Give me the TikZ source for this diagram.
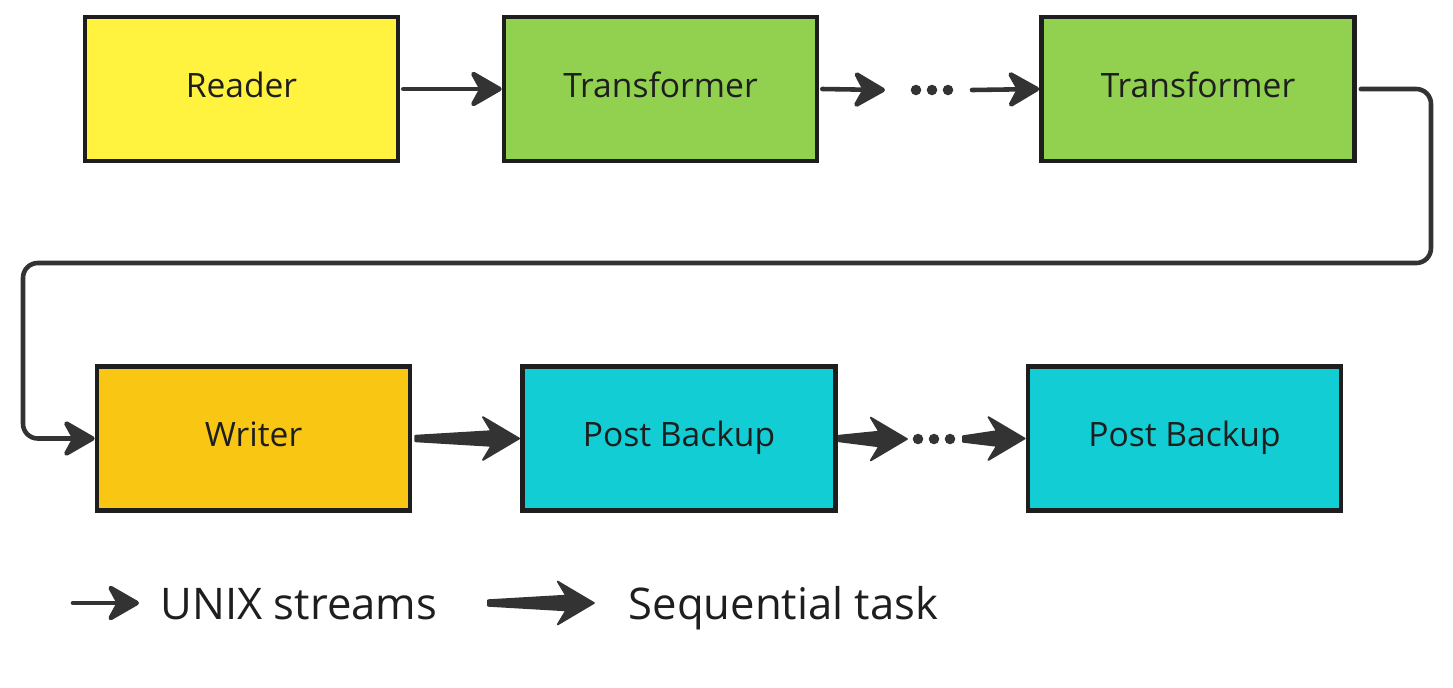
\documentclass[tikz,border=0pt]{standalone}
\usepackage{fontspec}
\setmainfont{Open Sans}
\usetikzlibrary{arrows.meta,calc}
\definecolor{ink}{HTML}{1E1E1E}
\definecolor{arr}{HTML}{333333}
\definecolor{cread}{HTML}{FFF340}
\definecolor{ctrans}{HTML}{92D050}
\definecolor{cwrite}{HTML}{F9C713}
\definecolor{cpost}{HTML}{13CDD4}
\tikzset{
  box/.style={draw=ink, line width=1.25pt, minimum width=3.13cm, minimum height=1.44cm,
    inner sep=0pt, text=ink, text height=7.4pt, text depth=2.6pt,
    font=\fontsize{9.55pt}{11pt}\selectfont},
  uarr/.style={draw=arr, line width=1.3pt, line cap=round,
    -{Stealth[length=10.3pt, width=11.8pt, inset=3.2pt, round]}},
  seq/.style={fill=arr, draw=arr, line width=0.5pt, line join=round,
    to path={let \p1=(\tikztostart), \p2=(\tikztotarget) in
      (\x1,\y1+0.8pt) -- (\x2-8.2pt,\y2+2.1pt) -- (\x2-10.6pt,\y2+6.1pt) --
      (\x2-0.3pt,\y2) -- (\x2-10.6pt,\y2-6.1pt) -- (\x2-8.2pt,\y2-2.1pt) --
      (\x1,\y1-0.8pt) -- cycle}},
  dotsbox/.style={minimum width=0.40cm, minimum height=0.1cm, inner sep=0pt, outer sep=0pt},
  legend/.style={anchor=base west, inner sep=0pt, text=ink, font=\fontsize{12.4pt}{14pt}\selectfont},
}
\begin{document}
\begin{tikzpicture}[x=0.01cm, y=-0.01cm]
\useasboundingbox (0,0) rectangle (1453,687);
% boxes
\node[box, fill=cread]  (rd) at (241.5,89)  {Reader};
\node[box, fill=ctrans] (t1) at (660.5,89)  {Transformer};
\node[box, fill=ctrans] (t2) at (1198,89)   {Transformer};
\node[box, fill=cwrite] (wr) at (253.5,438.5) {Writer};
\node[box, fill=cpost]  (p1) at (679,438.5) {Post Backup};
\node[box, fill=cpost]  (p2) at (1184.5,438.5) {Post Backup};
% ellipses
\node[dotsbox] (d1) at (932,90) {};
\node[dotsbox] (d2) at (934,439) {};
\foreach \n in {d1,d2}{
  \foreach \dx in {-16,0,16}{
    \fill[arr] ($(\n.center)+(\dx,0)$) circle (1.5pt);
  }
}
% top stream arrows
\draw[uarr] ($(rd.east)+(3,0)$) -- (t1.west);
\draw[uarr] ($(t1.east)+(3,0)$) -- ($(d1.west)+(-27,0)$);
\draw[uarr] ($(d1.east)+(20,0)$) -- (t2.west);
% wrap-around connector
\coordinate (cr) at (1431,263);
\coordinate (cl) at (23,263);
\draw[uarr, rounded corners=4.2pt] ($(t2.east)+(4,0)$) -| (cr) -- (cl) |- (wr.west);
% sequential arrows
\path[seq] ($(wr.east)+(3,0)$) to (p1.west);
\path[seq] ($(p1.east)+(1,0)$) to ($(d2.west)+(-6,0)$);
\path[seq] ($(d2.east)+(9,0)$) to (p2.west);
% legend
\coordinate (la) at (73,603);
\coordinate (lb) at (139,603);
\draw[uarr] (la) -- (lb);
\node[legend] (lt1) at (160,619) {UNIX streams};
\coordinate (sa) at (488,603);
\coordinate (sb) at (595,603);
\path[seq] (sa) to (sb);
\node[legend] (lt2) at (628,619) {Sequential task};
\end{tikzpicture}
\end{document}
